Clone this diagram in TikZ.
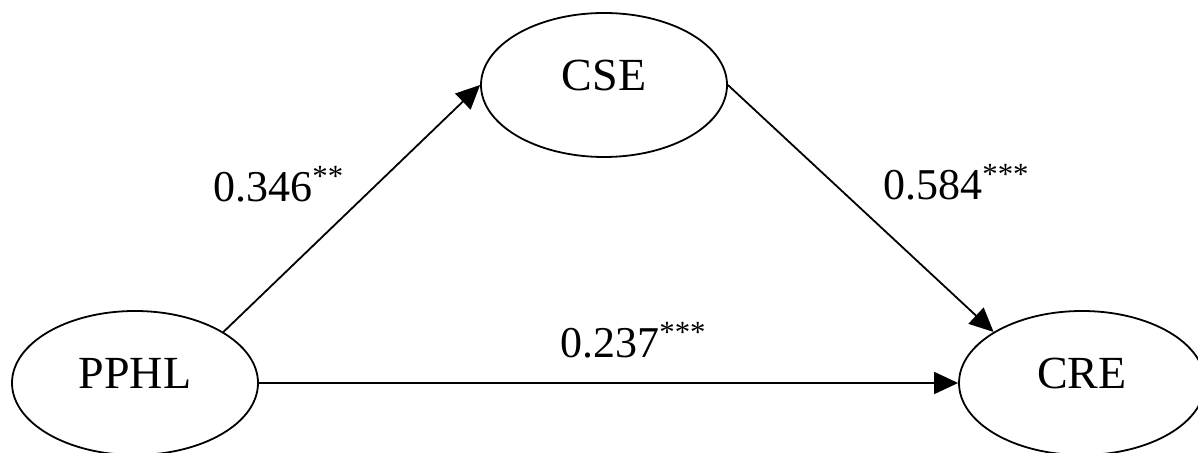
\documentclass[tikz,border=0pt]{standalone}
\usepackage{fontspec}
\setmainfont{Liberation Serif}
\usetikzlibrary{shapes.geometric, arrows.meta, positioning}

\begin{document}
\begin{tikzpicture}[x=0.5pt, y=-0.5pt]
    \tikzstyle{latent} = [ellipse, draw, line width=0.9pt, minimum width=123pt, minimum height=72pt, inner sep=0pt, text depth=10pt, font=\fontsize{23}{27}\selectfont]
    \tikzstyle{coef} = [inner sep=0pt, anchor=base west, font=\fontsize{22}{26}\selectfont]
    \tikzstyle{line} = [draw, line width=0.9pt, -{Triangle[length=12pt, width=11pt]}]
    \useasboundingbox (0,0) rectangle (1198,453);

    \node [latent] (pphl) at (135,383) {PPHL};
    \node [latent] (cse) at (604,85) {CSE};
    \node [latent] (cre) at (1082,383) {CRE};

    \path [line] (pphl.30) -- (cse.west);
    \path [line] (cse.east) -- (cre.150);
    \path [line] (pphl.east) -- (cre.west);

    \node [coef] (c1) at (213,202) {0.346\textsuperscript{**}};
    \node [coef] (c2) at (883,200) {0.584\textsuperscript{***}};
    \node [coef] (c3) at (560,358) {0.237\textsuperscript{***}};
\end{tikzpicture}
\end{document}
